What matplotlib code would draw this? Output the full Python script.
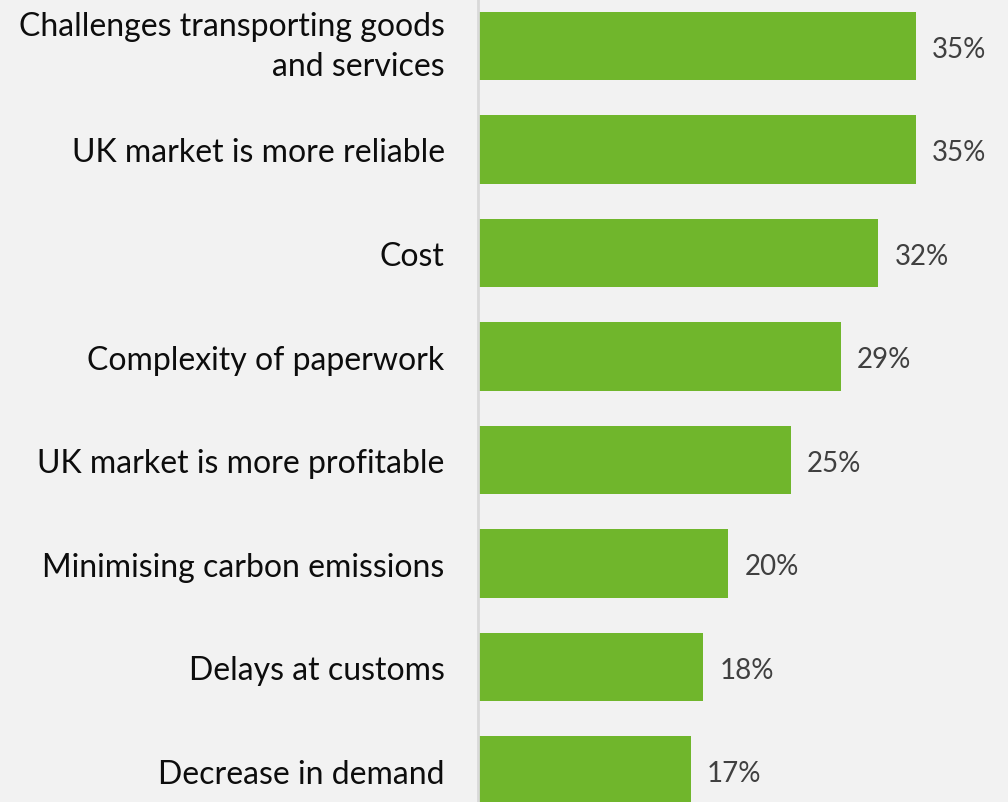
import matplotlib
matplotlib.use("Agg")
import matplotlib.pyplot as plt

categories = [
    "Challenges transporting goods\nand services",
    "UK market is more reliable",
    "Cost",
    "Complexity of paperwork",
    "UK market is more profitable",
    "Minimising carbon emissions",
    "Delays at customs",
    "Decrease in demand",
]
values = [35, 35, 32, 29, 25, 20, 18, 17]

bg = "#f2f2f2"
bar_color = "#70b62c"

fig = plt.figure(figsize=(10.08, 8.03), dpi=100, facecolor=bg)
ax = fig.add_axes([478 / 1008, 0, 1 - 478 / 1008, 1], facecolor=bg)

y = list(range(len(categories)))
ax.barh(y, values, height=0.66, color=bar_color, zorder=2)

ax.set_xlim(0, 42.4)
ax.set_ylim(7.304, -0.454)

for yi, v in zip(y, values):
    ax.annotate(f"{v}%", xy=(v, yi), xytext=(12, -2), textcoords="offset points",
                ha="left", va="center", fontsize=20, color="#404040", family="Lato")

ax.set_yticks(y)
labels = ax.set_yticklabels(categories, fontsize=23, color="#0d0d0d", family="Lato",
                            linespacing=1.45)
# keep the wrapped label centred on its bar
labels[0].set_verticalalignment("center")
ax.tick_params(axis="y", length=0, pad=24)
ax.set_xticks([])

for s in ["top", "right", "bottom"]:
    ax.spines[s].set_visible(False)
ax.spines["left"].set_color("#d9d9d9")
ax.spines["left"].set_linewidth(2)

fig.savefig("out.png", dpi=100, facecolor=bg)
